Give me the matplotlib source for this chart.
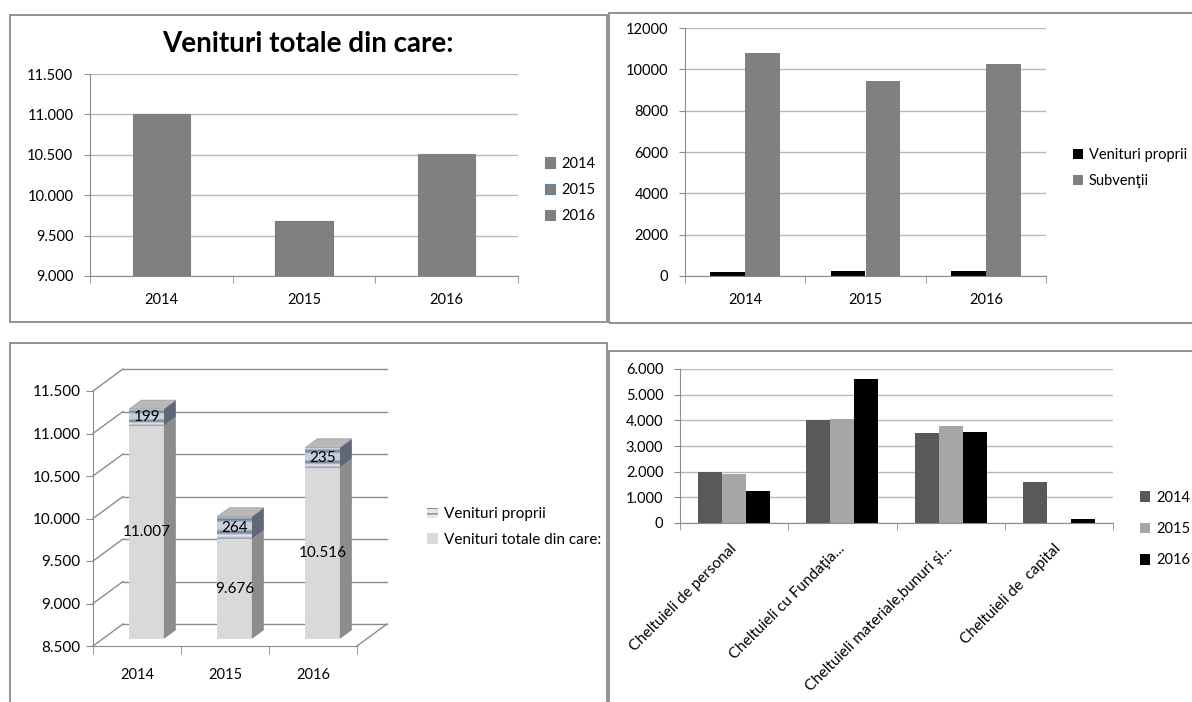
import matplotlib
matplotlib.use('Agg')
import matplotlib.pyplot as plt
import numpy as np
from matplotlib.patches import Polygon, Rectangle
from matplotlib.ticker import FuncFormatter, MultipleLocator
from matplotlib.colors import LinearSegmentedColormap

plt.rcParams['font.family'] = ['Lato', 'DejaVu Sans']

# ---------------- data ----------------
years = ['2014', '2015', '2016']
venituri_totale = [11007, 9676, 10516]
venituri_proprii = [199, 264, 235]
subventii = [10808, 9412, 10281]

chelt_categories = ['Cheltuieli de personal', 'Cheltuieli cu Fundaţia...',
                    'Cheltuieli materiale,bunuri şi...', 'Cheltuieli de  capital']
chelt_2014 = [1970, 4000, 3500, 1600]
chelt_2015 = [1900, 4040, 3790, 0]
chelt_2016 = [1260, 5610, 3545, 170]

# ---------------- helpers ----------------
W, H = 1192, 702
fig = plt.figure(figsize=(W / 100, H / 100), dpi=100)


def ax_px(l, t, r, b):
    return fig.add_axes([l / W, 1 - b / H, (r - l) / W, (b - t) / H])


def border(l, t, r, b):
    fig.add_artist(Rectangle((l / W, 1 - b / H), (r - l) / W, (b - t) / H,
                             transform=fig.transFigure, fill=False,
                             ec='#8a8a8a', lw=1.3))


dot_fmt = FuncFormatter(lambda v, p: f'{v:,.0f}'.replace(',', '.'))
GRID = '#b8b8b8'
AXC = '#8c8c8c'
FS = 10.5


def style(ax):
    for s in ['top', 'right']:
        ax.spines[s].set_visible(False)
    for s in ['left', 'bottom']:
        ax.spines[s].set_color(AXC)
    ax.tick_params(colors=AXC, labelcolor='black', labelsize=FS, length=4)
    ax.yaxis.grid(True, color=GRID, lw=1)
    ax.set_axisbelow(True)


def cat_ticks(ax, n, labels, pad=10, **kw):
    ax.set_xlim(-0.5, n - 0.5)
    ax.set_xticks(np.arange(n), labels, **kw)
    ax.set_xticks(np.arange(n + 1) - 0.5, minor=True)
    ax.tick_params(axis='x', which='major', length=0, pad=pad)
    ax.tick_params(axis='x', which='minor', length=5, color=AXC)


def legend_px(ax, handles, labels, x, y, fs=FS, spacing=0.55, hl=0.7):
    ax.legend(handles, labels, loc='center left',
              bbox_to_anchor=(x / W, 1 - y / H), bbox_transform=fig.transFigure,
              frameon=False, handlelength=hl, handleheight=hl,
              handletextpad=0.4, labelspacing=spacing, borderpad=0,
              borderaxespad=0, fontsize=fs)


# panel borders
border(10, 15, 607, 322)
border(609, 13, 1200, 323)
border(10, 343, 607, 710)
border(609, 351, 1200, 710)

# ---------------- panel 1: Venituri totale ----------------
ax1 = ax_px(90, 74, 518, 276)
x3 = np.arange(3)
ax1.bar(x3, venituri_totale, width=0.4, color='#808080',
        edgecolor=['#808080', '#5b7fb0', '#808080'], lw=0.8)
ax1.set_ylim(9000, 11500)
ax1.yaxis.set_major_locator(MultipleLocator(500))
ax1.yaxis.set_major_formatter(dot_fmt)
style(ax1)
ax1.tick_params(axis='y', pad=8)
cat_ticks(ax1, 3, years, pad=12)
fig.text(308 / W, 1 - 44 / H, 'Venituri totale din care:', ha='center', va='center',
         fontsize=20, fontweight='bold')
h1 = [Rectangle((0, 0), 1, 1, fc='#808080', ec=e, lw=0.8)
      for e in ['#808080', '#5b7fb0', '#808080']]
legend_px(ax1, h1, years, 545, 190, spacing=0.85)

# ---------------- panel 2: Venituri proprii / Subventii ----------------
ax2 = ax_px(685, 28, 1046, 276)
bw = 0.29
b_vp = ax2.bar(x3 - bw / 2, venituri_proprii, bw, color='black', label='Venituri proprii')
b_sv = ax2.bar(x3 + bw / 2, subventii, bw, color='#808080', label='Subvenţii')
ax2.set_ylim(0, 12000)
ax2.yaxis.set_major_locator(MultipleLocator(2000))
style(ax2)
ax2.tick_params(axis='y', pad=8)
cat_ticks(ax2, 3, years, pad=12)
legend_px(ax2, [b_vp, b_sv], ['Venituri proprii', 'Subvenţii'], 1073, 168, spacing=0.85)

# ---------------- panel 3: pseudo-3D stacked columns ----------------
ax3 = ax_px(93, 391, 357, 646)
ax3.set_xlim(0, 3)
ax3.set_ylim(8500, 11500)
ax3.patch.set_alpha(0)
for s in ['top', 'right']:
    ax3.spines[s].set_visible(False)
for s in ['left', 'bottom']:
    ax3.spines[s].set_color(AXC)
ax3.yaxis.set_major_locator(MultipleLocator(500))
ax3.yaxis.set_major_formatter(dot_fmt)
ax3.tick_params(colors=AXC, labelcolor='black', labelsize=11, length=5)
ax3.tick_params(axis='y', pad=4)
ax3.set_xticks(np.arange(3) + 0.5, years)
ax3.set_xticks(np.arange(4), minor=True)
ax3.tick_params(axis='x', which='major', length=0, pad=16, labelsize=FS)
ax3.tick_params(axis='x', which='minor', length=6, color=AXC)

# depth vector (in data units of ax3) of the 3D box, from pixel geometry
x_per_px = 3 / (357 - 93)
y_per_px = 3000 / (646 - 391)
DX, DY = 30 * x_per_px, 22 * y_per_px
WALL = '#8c8c8c'
base = 8500
for v in np.arange(8500, 11501, 500):
    ax3.plot([DX, 3 + DX], [v + DY, v + DY], color=WALL, lw=1, clip_on=False, zorder=1)
    ax3.plot([0, DX], [v, v + DY], color=WALL, lw=1, clip_on=False, zorder=1)
ax3.plot([3, 3 + DX], [base, base + DY], color=WALL, lw=1, clip_on=False, zorder=1)

f0, f1 = 0.32, 0.72
hw = 0.196
stripe = LinearSegmentedColormap.from_list(
    'stripe', ['#dde2ea', '#6f7d94', '#c9d0db', '#c9d0db', '#c9d0db', '#6f7d94', '#e9ecf1', '#8f9bb0'])
grad = np.linspace(0, 1, 64).reshape(-1, 1)


def box(xl, xr, y0, y1, face, side, top=None):
    ax3.add_patch(Rectangle((xl + f0 * DX, y0 + f0 * DY), xr - xl, y1 - y0,
                            fc=face, ec='none', zorder=3, clip_on=False))
    ax3.add_patch(Polygon([(xr + f0 * DX, y0 + f0 * DY), (xr + f1 * DX, y0 + f1 * DY),
                           (xr + f1 * DX, y1 + f1 * DY), (xr + f0 * DX, y1 + f0 * DY)],
                          closed=True, fc=side, ec='none', zorder=3, clip_on=False))
    if top is not None:
        ax3.add_patch(Polygon([(xl + f0 * DX, y1 + f0 * DY), (xr + f0 * DX, y1 + f0 * DY),
                               (xr + f1 * DX, y1 + f1 * DY), (xl + f1 * DX, y1 + f1 * DY)],
                              closed=True, fc=top, ec='#9a9a9a', lw=0.5, zorder=4, clip_on=False))


for i, (vt, vp) in enumerate(zip(venituri_totale, venituri_proprii)):
    c = i + 0.5
    xl, xr = c - hw, c + hw
    box(xl, xr, base, vt, '#d9d9d9', '#8c8c8c')
    box(xl, xr, vt, vt + vp, '#c9d0db', '#5f6877', top='#b9b9b9')
    ax3.imshow(grad, cmap=stripe, aspect='auto', zorder=3.5, interpolation='bilinear',
               extent=[xl + f0 * DX, xr + f0 * DX, vt + f0 * DY, vt + vp + f0 * DY])
    ax3.text(c + f0 * DX, (base + vt) / 2 + f0 * DY, dot_fmt(vt, None),
             ha='center', va='center', fontsize=11, zorder=6)
    ax3.text(c + f0 * DX, vt + vp / 2 + f0 * DY, f'{vp}',
             ha='center', va='center', fontsize=11, zorder=6)
ax3.set_xlim(0, 3)
ax3.set_ylim(8500, 11500)

h3 = [Rectangle((0, 0), 1, 1, fc='#e4e7ec', ec='#7f8ba0', hatch='---', lw=0),
      Rectangle((0, 0), 1, 1, fc='#d9d9d9', ec='none')]
legend_px(ax3, h3, ['Venituri proprii', 'Venituri totale din care:'], 427, 527,
          fs=11, spacing=0.75)

# ---------------- panel 4: Cheltuieli ----------------
ax4 = ax_px(680, 369, 1113, 523)
x4 = np.arange(4)
bw4 = 0.222
c14 = ax4.bar(x4 - bw4, chelt_2014, bw4, color='#595959')
c15 = ax4.bar(x4, chelt_2015, bw4, color='#a6a6a6')
c16 = ax4.bar(x4 + bw4, chelt_2016, bw4, color='#000000')
ax4.set_ylim(0, 6000)
ax4.yaxis.set_major_locator(MultipleLocator(1000))
ax4.yaxis.set_major_formatter(dot_fmt)
style(ax4)
ax4.tick_params(axis='y', pad=8)
cat_ticks(ax4, 4, chelt_categories, pad=17, rotation=45, ha='right',
          va='center', rotation_mode='anchor', fontsize=11)
legend_px(ax4, [c14, c15, c16], years, 1140, 529, spacing=1.2)

fig.savefig('out.png', dpi=100)
